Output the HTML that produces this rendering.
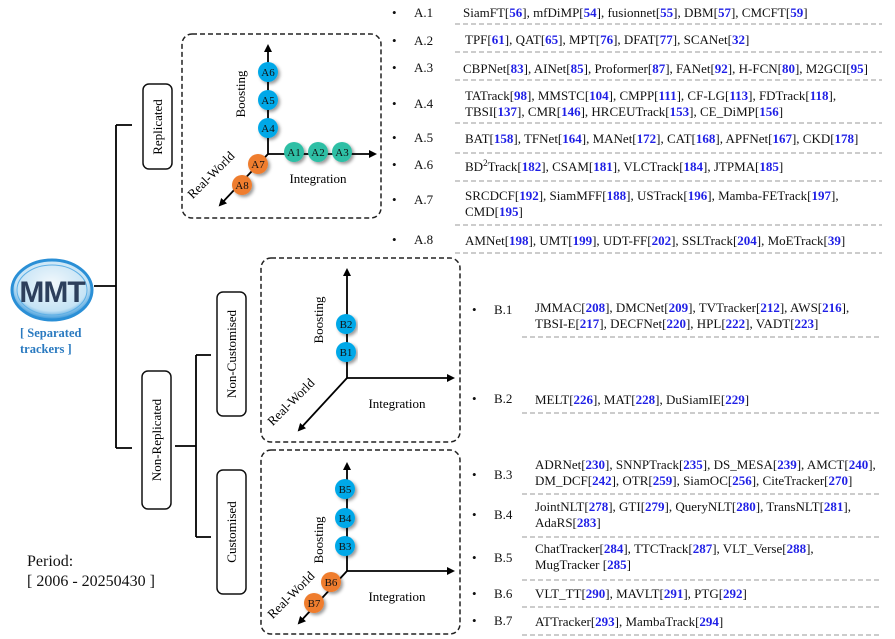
<!DOCTYPE html>
<html><head><meta charset="utf-8"><style>
body{margin:0;background:#fff;}
svg{display:block;font-family:"Liberation Serif",serif;}
.l{font-size:13px;fill:#111;}
.r{fill:#1f1fe6;font-weight:bold;}
.sep{stroke:#bbb;stroke-width:1.5;stroke-dasharray:5,3;}
.ax{stroke:#000;stroke-width:1.8;fill:none;}
.ct{font-size:11px;fill:#111;text-anchor:middle;}
.box{fill:none;stroke:#222;stroke-width:1.5;stroke-dasharray:5,3;}
.cat{fill:#fff;stroke:#111;stroke-width:1.5;}
.tl{stroke:#000;stroke-width:1.8;fill:none;}
.axl{font-size:13px;}
</style></head><body>
<svg width="895" height="639" viewBox="0 0 895 639">
<defs>
<marker id="ar" markerWidth="8" markerHeight="8" refX="6" refY="4" orient="auto" markerUnits="userSpaceOnUse"><path d="M0,0 L8,4 L0,8 z" fill="#000"/></marker>
<filter id="sh"><feDropShadow dx="2" dy="2" stdDeviation="1.5" flood-opacity="0.4"/></filter>
<radialGradient id="lg" cx="50%" cy="40%" r="60%"><stop offset="0" stop-color="#f2f8fc"/><stop offset="0.75" stop-color="#c5e3f5"/><stop offset="1" stop-color="#2a8fd6"/></radialGradient>
</defs>

<g>
<path class="tl" d="M94,286 H116 M116,125 V448 M116,125 H132 M116,448 H132 M175,446 H196 M196,355 V537 M196,355 H211 M196,537 H211"/>
</g>

<g>
<ellipse cx="52" cy="290" rx="40" ry="30" fill="url(#lg)" stroke="#2a8fd6" stroke-width="3"/>
<ellipse cx="52" cy="290" rx="35" ry="25" fill="none" stroke="#5fb0e6" stroke-width="1"/>
<text x="52" y="302" text-anchor="middle" font-family="Liberation Sans" font-weight="bold" font-size="30" fill="#2d3f5c" letter-spacing="-1">MMT</text>
<text x="20" y="337" font-size="12.5" font-weight="bold" fill="#2a7ac0">[ Separated</text>
<text x="20" y="353" font-size="12.5" font-weight="bold" fill="#2a7ac0">trackers ]</text>
</g>
<text x="27" y="566" font-size="16" fill="#111">Period:</text>
<text x="27" y="586" font-size="16" fill="#111">[ 2006 - 20250430 ]</text>

<g><rect class="cat" x="143" y="84" width="29" height="85" rx="6"/><text transform="translate(162,127) rotate(-90)" text-anchor="middle" font-size="13">Replicated</text></g>
<g><rect class="cat" x="142" y="371" width="29" height="138" rx="6"/><text transform="translate(161,440) rotate(-90)" text-anchor="middle" font-size="13">Non-Replicated</text></g>
<g><rect class="cat" x="217" y="292" width="29" height="124" rx="6"/><text transform="translate(236,354) rotate(-90)" text-anchor="middle" font-size="13">Non-Customised</text></g>
<g><rect class="cat" x="217" y="470" width="29" height="124" rx="6"/><text transform="translate(236,532) rotate(-90)" text-anchor="middle" font-size="13">Customised</text></g>

<g>
<rect class="box" x="182" y="34" width="199" height="184" rx="10"/>
<path class="ax" d="M268,154 V46" marker-end="url(#ar)"/>
<path class="ax" d="M268,154 H375" marker-end="url(#ar)"/>
<path class="ax" d="M268,154 L220,205" marker-end="url(#ar)"/>
<text class="axl" transform="translate(245,94) rotate(-90)" text-anchor="middle">Boosting</text>
<text class="axl" x="318" y="183" text-anchor="middle">Integration</text>
<text class="axl" transform="translate(214,178) rotate(-45)" text-anchor="middle">Real-World</text>
<g filter="url(#sh)">
<circle cx="268" cy="72" r="10" fill="#00a8e8"/><circle cx="268" cy="100" r="10" fill="#00a8e8"/><circle cx="268" cy="128" r="10" fill="#00a8e8"/>
<circle cx="294" cy="152" r="10" fill="#2ebfa5"/><circle cx="318" cy="152" r="10" fill="#2ebfa5"/><circle cx="342" cy="152" r="10" fill="#2ebfa5"/>
<circle cx="258" cy="164" r="10" fill="#ef7d2e"/><circle cx="242" cy="185" r="10" fill="#ef7d2e"/>
</g>
<text class="ct" x="268" y="76">A6</text><text class="ct" x="268" y="104">A5</text><text class="ct" x="268" y="132">A4</text>
<text class="ct" x="294" y="156">A1</text><text class="ct" x="318" y="156">A2</text><text class="ct" x="342" y="156">A3</text>
<text class="ct" x="258" y="168">A7</text><text class="ct" x="242" y="189">A8</text>
</g>

<g>
<rect class="box" x="261" y="258" width="199" height="184" rx="10"/>
<path class="ax" d="M347,378 V270" marker-end="url(#ar)"/>
<path class="ax" d="M347,378 H453" marker-end="url(#ar)"/>
<path class="ax" d="M347,378 L299,430" marker-end="url(#ar)"/>
<text class="axl" transform="translate(323,320) rotate(-90)" text-anchor="middle">Boosting</text>
<text class="axl" x="397" y="408" text-anchor="middle">Integration</text>
<text class="axl" transform="translate(294,405) rotate(-45)" text-anchor="middle">Real-World</text>
<g filter="url(#sh)"><circle cx="346" cy="324" r="10" fill="#00a8e8"/><circle cx="346" cy="352" r="10" fill="#00a8e8"/></g>
<text class="ct" x="346" y="328">B2</text><text class="ct" x="346" y="356">B1</text>
</g>

<g>
<rect class="box" x="261" y="450" width="199" height="184" rx="10"/>
<path class="ax" d="M347,571 V464" marker-end="url(#ar)"/>
<path class="ax" d="M347,571 H453" marker-end="url(#ar)"/>
<path class="ax" d="M347,571 L299,623" marker-end="url(#ar)"/>
<text class="axl" transform="translate(323,540) rotate(-90)" text-anchor="middle">Boosting</text>
<text class="axl" x="397" y="601" text-anchor="middle">Integration</text>
<text class="axl" transform="translate(294,598) rotate(-45)" text-anchor="middle">Real-World</text>
<g filter="url(#sh)">
<circle cx="345" cy="489" r="10" fill="#00a8e8"/><circle cx="345" cy="518" r="10" fill="#00a8e8"/><circle cx="345" cy="546" r="10" fill="#00a8e8"/>
<circle cx="331" cy="582" r="10" fill="#ef7d2e"/><circle cx="314" cy="603" r="10" fill="#ef7d2e"/>
</g>
<text class="ct" x="345" y="493">B5</text><text class="ct" x="345" y="522">B4</text><text class="ct" x="345" y="550">B3</text>
<text class="ct" x="331" y="586">B6</text><text class="ct" x="314" y="607">B7</text>
</g>

<g class="l">
<text x="392" y="17">•</text><text x="414" y="17">A.1</text>
<text x="463" y="17">SiamFT[<tspan class="r">56</tspan>], mfDiMP[<tspan class="r">54</tspan>], fusionnet[<tspan class="r">55</tspan>], DBM[<tspan class="r">57</tspan>], CMCFT[<tspan class="r">59</tspan>]</text>
<text x="392" y="45">•</text><text x="414" y="45">A.2</text>
<text x="465" y="44">TPF[<tspan class="r">61</tspan>], QAT[<tspan class="r">65</tspan>], MPT[<tspan class="r">76</tspan>], DFAT[<tspan class="r">77</tspan>], SCANet[<tspan class="r">32</tspan>]</text>
<text x="392" y="72">•</text><text x="414" y="72">A.3</text>
<text x="463" y="73">CBPNet[<tspan class="r">83</tspan>], AINet[<tspan class="r">85</tspan>], Proformer[<tspan class="r">87</tspan>], FANet[<tspan class="r">92</tspan>], H-FCN[<tspan class="r">80</tspan>], M2GCI[<tspan class="r">95</tspan>]</text>
<text x="392" y="108">•</text><text x="414" y="108">A.4</text>
<text x="465" y="100">TATrack[<tspan class="r">98</tspan>], MMSTC[<tspan class="r">104</tspan>], CMPP[<tspan class="r">111</tspan>], CF-LG[<tspan class="r">113</tspan>], FDTrack[<tspan class="r">118</tspan>],</text>
<text x="465" y="116">TBSI[<tspan class="r">137</tspan>], CMR[<tspan class="r">146</tspan>], HRCEUTrack[<tspan class="r">153</tspan>], CE_DiMP[<tspan class="r">156</tspan>]</text>
<text x="392" y="142">•</text><text x="414" y="142">A.5</text>
<text x="465" y="143">BAT[<tspan class="r">158</tspan>], TFNet[<tspan class="r">164</tspan>], MANet[<tspan class="r">172</tspan>], CAT[<tspan class="r">168</tspan>], APFNet[<tspan class="r">167</tspan>], CKD[<tspan class="r">178</tspan>]</text>
<text x="392" y="169">•</text><text x="414" y="169">A.6</text>
<text x="465" y="171">BD<tspan font-size="9" dy="-5">2</tspan><tspan dy="5">Track[</tspan><tspan class="r">182</tspan>], CSAM[<tspan class="r">181</tspan>], VLCTrack[<tspan class="r">184</tspan>], JTPMA[<tspan class="r">185</tspan>]</text>
<text x="392" y="204">•</text><text x="414" y="204">A.7</text>
<text x="465" y="200">SRCDCF[<tspan class="r">192</tspan>], SiamMFF[<tspan class="r">188</tspan>], USTrack[<tspan class="r">196</tspan>], Mamba-FETrack[<tspan class="r">197</tspan>],</text>
<text x="465" y="216">CMD[<tspan class="r">195</tspan>]</text>
<text x="392" y="244">•</text><text x="414" y="244">A.8</text>
<text x="465" y="245">AMNet[<tspan class="r">198</tspan>], UMT[<tspan class="r">199</tspan>], UDT-FF[<tspan class="r">202</tspan>], SSLTrack[<tspan class="r">204</tspan>], MoETrack[<tspan class="r">39</tspan>]</text>
<path class="sep" d="M455,24 H882 M455,52 H882 M455,80 H882 M455,123 H882 M455,153 H882 M455,181 H882 M455,225 H882 M455,253 H882"/>
</g>

<g class="l">
<text x="472" y="314">•</text><text x="494" y="314">B.1</text>
<text x="535" y="312">JMMAC[<tspan class="r">208</tspan>], DMCNet[<tspan class="r">209</tspan>], TVTracker[<tspan class="r">212</tspan>], AWS[<tspan class="r">216</tspan>],</text>
<text x="535" y="328">TBSI-E[<tspan class="r">217</tspan>], DECFNet[<tspan class="r">220</tspan>], HPL[<tspan class="r">222</tspan>], VADT[<tspan class="r">223</tspan>]</text>
<text x="472" y="403">•</text><text x="494" y="403">B.2</text>
<text x="535" y="404">MELT[<tspan class="r">226</tspan>], MAT[<tspan class="r">228</tspan>], DuSiamIE[<tspan class="r">229</tspan>]</text>
<text x="472" y="479">•</text><text x="494" y="479">B.3</text>
<text x="535" y="469">ADRNet[<tspan class="r">230</tspan>], SNNPTrack[<tspan class="r">235</tspan>], DS_MESA[<tspan class="r">239</tspan>], AMCT[<tspan class="r">240</tspan>],</text>
<text x="535" y="485">DM_DCF[<tspan class="r">242</tspan>], OTR[<tspan class="r">259</tspan>],  SiamOC[<tspan class="r">256</tspan>], CiteTracker[<tspan class="r">270</tspan>]</text>
<text x="472" y="519">•</text><text x="494" y="519">B.4</text>
<text x="535" y="511">JointNLT[<tspan class="r">278</tspan>], GTI[<tspan class="r">279</tspan>], QueryNLT[<tspan class="r">280</tspan>], TransNLT[<tspan class="r">281</tspan>],</text>
<text x="535" y="527">AdaRS[<tspan class="r">283</tspan>]</text>
<text x="472" y="562">•</text><text x="494" y="562">B.5</text>
<text x="535" y="553">ChatTracker[<tspan class="r">284</tspan>], TTCTrack[<tspan class="r">287</tspan>], VLT_Verse[<tspan class="r">288</tspan>],</text>
<text x="535" y="569">MugTracker [<tspan class="r">285</tspan>]</text>
<text x="472" y="598">•</text><text x="494" y="598">B.6</text>
<text x="535" y="598">VLT_TT[<tspan class="r">290</tspan>], MAVLT[<tspan class="r">291</tspan>], PTG[<tspan class="r">292</tspan>]</text>
<text x="472" y="625">•</text><text x="494" y="625">B.7</text>
<text x="535" y="626">ATTracker[<tspan class="r">293</tspan>], MambaTrack[<tspan class="r">294</tspan>]</text>
<path class="sep" d="M522,337 H880 M522,413 H880 M522,494 H880 M522,537 H880 M522,580 H880 M522,607 H880 M522,635 H880"/>
</g>
</svg>
</body></html>
